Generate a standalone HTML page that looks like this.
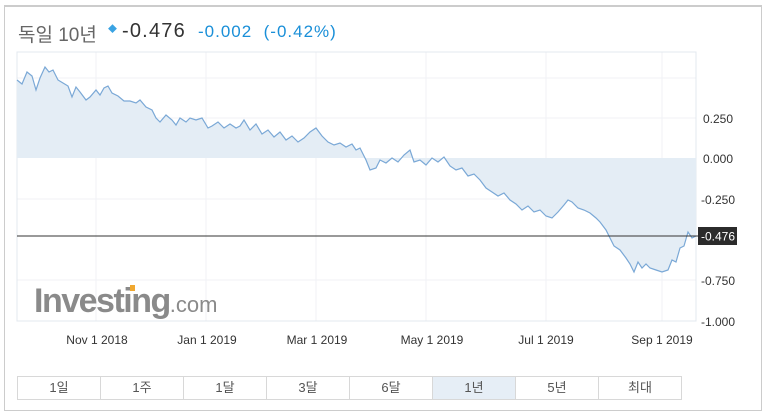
<!DOCTYPE html><html><head><meta charset="utf-8"><style>
body{margin:0;width:768px;height:416px;background:#fff;font-family:"Liberation Sans","Noto Sans CJK KR",sans-serif;position:relative;overflow:hidden}
.box{position:absolute;left:4px;top:5px;width:758px;height:406px;border:1px solid #ccc;border-top:2px solid #ccc;box-sizing:border-box}
.t{position:absolute;top:21px;font-size:18px;white-space:nowrap}
.btns{position:absolute;left:17px;top:376px;display:flex;border:1px solid #d8d8d8}
.btns div{width:82px;height:22px;border-right:1px solid #d8d8d8;text-align:center;font-size:13px;line-height:22px;color:#555}
.btns div:last-child{border-right:none}
</style></head><body>
<div class="box"></div>
<div class="t" style="left:18px;color:#666;font-size:19px;top:20px">독일 10년</div>
<div style="position:absolute;left:108px;top:22px;color:#3aa3e3;font-size:9px">◆</div>
<div class="t" style="left:122px;color:#333;font-size:20px;top:20px;letter-spacing:1.2px">-0.476</div>
<div class="t" style="left:198px;color:#1a8fd8;font-size:17px;top:22px;letter-spacing:1px">-0.002 &nbsp;(-0.42%)</div>
<svg width="768" height="416" style="position:absolute;left:0;top:0">
<g stroke="#f0f2f5" stroke-width="1">
<line x1="96" y1="52" x2="96" y2="321"/><line x1="206" y1="52" x2="206" y2="321"/><line x1="316" y1="52" x2="316" y2="321"/><line x1="426" y1="52" x2="426" y2="321"/><line x1="546" y1="52" x2="546" y2="321"/><line x1="662" y1="52" x2="662" y2="321"/>
<line x1="17" y1="78" x2="696" y2="78"/><line x1="17" y1="118" x2="696" y2="118"/><line x1="17" y1="199" x2="696" y2="199"/><line x1="17" y1="280" x2="696" y2="280"/>
</g>
<rect x="17" y="52" width="679" height="269" fill="none" stroke="#e3e8ef"/>
<path d="M17 158 L17 80 22 84 27 72 32 76 36 90 40 78 45 67 49 72 53 70 58 80 63 83 68 86 72 97 76 87 80 92 86 100 90 97 96 90 100 95 104 88 108 86 112 93 118 96 124 101 130 101 136 103 140 100 146 107 152 110 156 118 160 122 166 115 172 120 176 125 180 118 186 122 190 118 196 120 202 118 208 128 212 126 218 122 224 128 230 124 236 128 240 126 244 120 250 130 256 124 262 134 268 130 274 137 280 132 286 140 292 136 298 142 304 138 310 132 316 128 322 136 328 142 334 145 340 143 346 147 352 144 356 150 360 148 366 160 370 170 376 168 380 160 386 163 392 158 398 162 404 155 410 150 414 162 420 160 426 165 432 158 438 162 444 157 450 166 456 170 462 168 468 176 474 174 480 180 486 188 492 192 498 196 504 193 510 200 516 204 522 210 528 206 534 212 540 210 546 216 552 218 558 212 564 205 568 200 572 202 578 208 584 210 590 213 596 218 600 222 606 230 610 238 614 246 620 250 626 258 630 264 634 272 638 262 642 268 646 264 650 268 656 270 662 272 668 270 672 260 676 262 680 248 684 246 688 232 692 238 696 236 L696 158 Z" fill="#e4edf5" stroke="none"/>
<path d="M17 80 22 84 27 72 32 76 36 90 40 78 45 67 49 72 53 70 58 80 63 83 68 86 72 97 76 87 80 92 86 100 90 97 96 90 100 95 104 88 108 86 112 93 118 96 124 101 130 101 136 103 140 100 146 107 152 110 156 118 160 122 166 115 172 120 176 125 180 118 186 122 190 118 196 120 202 118 208 128 212 126 218 122 224 128 230 124 236 128 240 126 244 120 250 130 256 124 262 134 268 130 274 137 280 132 286 140 292 136 298 142 304 138 310 132 316 128 322 136 328 142 334 145 340 143 346 147 352 144 356 150 360 148 366 160 370 170 376 168 380 160 386 163 392 158 398 162 404 155 410 150 414 162 420 160 426 165 432 158 438 162 444 157 450 166 456 170 462 168 468 176 474 174 480 180 486 188 492 192 498 196 504 193 510 200 516 204 522 210 528 206 534 212 540 210 546 216 552 218 558 212 564 205 568 200 572 202 578 208 584 210 590 213 596 218 600 222 606 230 610 238 614 246 620 250 626 258 630 264 634 272 638 262 642 268 646 264 650 268 656 270 662 272 668 270 672 260 676 262 680 248 684 246 688 232 692 238 696 236" fill="none" stroke="#7aa8d6" stroke-width="1.2"/>
<line x1="17" y1="236" x2="698" y2="236" stroke="#333" stroke-width="1"/>
<rect x="698" y="227" width="39" height="18" fill="#2b2b2b"/>
<text x="701" y="240.5" font-size="12" fill="#fff" font-family="Liberation Sans">-0.476</text>
<g font-size="12" fill="#333" font-family="Liberation Sans">
<text x="703" y="123">0.250</text><text x="703" y="163">0.000</text><text x="701" y="204">-0.250</text><text x="701" y="285">-0.750</text><text x="701" y="326">-1.000</text>
<g text-anchor="middle"><text x="97" y="344">Nov 1 2018</text><text x="207" y="344">Jan 1 2019</text><text x="317" y="344">Mar 1 2019</text><text x="432" y="344">May 1 2019</text><text x="546" y="344">Jul 1 2019</text><text x="662" y="344">Sep 1 2019</text></g>
</g>
<text x="34" y="312" font-size="34" font-weight="bold" fill="#8a8a8a" font-family="Liberation Sans" letter-spacing="-1.5">Investing<tspan font-size="22" font-weight="normal" letter-spacing="0">.com</tspan></text>
<rect x="130" y="285" width="5" height="6" fill="#f0a830"/>
</svg>
<div class="btns"><div>1일</div><div>1주</div><div>1달</div><div>3달</div><div>6달</div><div style="background:#e6eef6">1년</div><div>5년</div><div>최대</div></div>
</body></html>
